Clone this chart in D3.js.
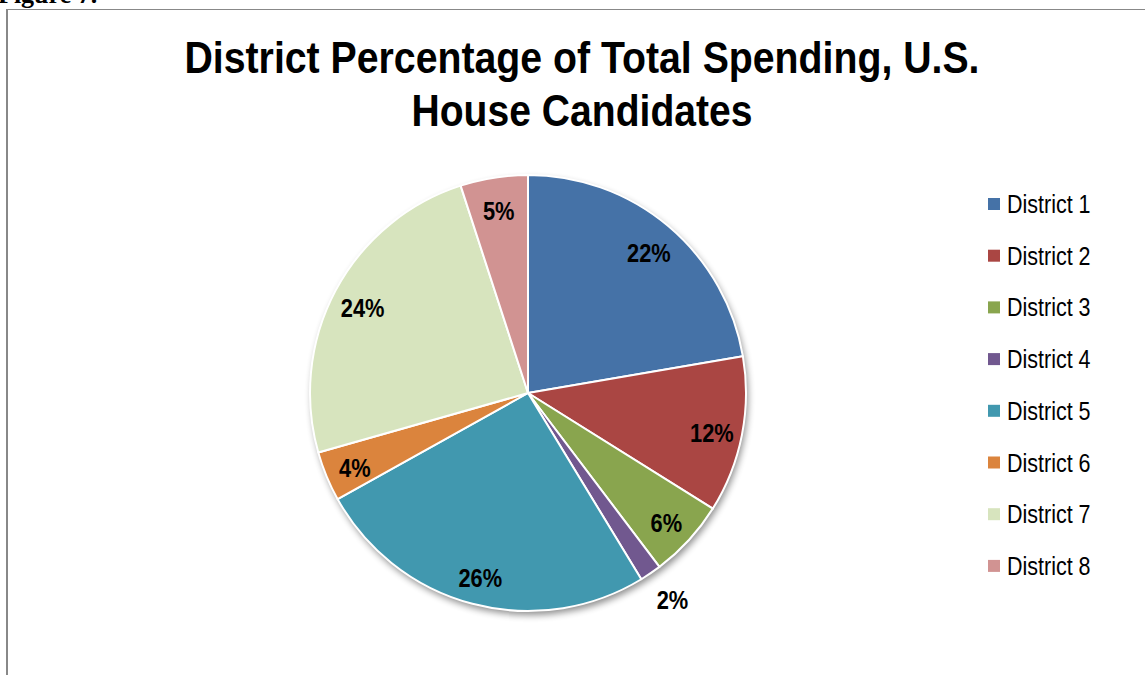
<!DOCTYPE html>
<html>
<head>
<meta charset="utf-8">
<script src="https://cdn.jsdelivr.net/npm/d3@7"></script>
<style>
  html, body { margin: 0; padding: 0; background: #fff; }
  svg { display: block; }
</style>
</head>
<body>
<svg id="chart" width="1145" height="675"></svg>
<script>
// Share of total spending by district (percent)
const districts = ["District 1", "District 2", "District 3", "District 4",
                   "District 5", "District 6", "District 7", "District 8"];
const shares = [22.3, 11.6, 5.8, 1.6, 25.6, 3.7, 24.4, 5.0];
const sliceColors = ["#4572A7", "#AA4643", "#89A54E", "#71588F",
                     "#4198AF", "#DB843D", "#D7E4BE", "#D19392"];
const titleLines = ["District Percentage of Total Spending, U.S.", "House Candidates"];

const W = 1145, H = 675;
const svg = d3.select("#chart");
const sans = "'Liberation Sans', Arial, sans-serif";
const squeeze = 0.84; // horizontal condensing for a narrow sans look

// Caption above the frame, mostly cropped off the top edge
svg.append("text")
  .attr("x", -2).attr("y", 3)
  .attr("font-family", "'Liberation Serif', 'Times New Roman', serif")
  .attr("font-weight", "bold").attr("font-size", 26)
  .attr("fill", "#000")
  .text("Figure 7.");

// Chart frame
svg.append("line").attr("x1", 6).attr("x2", W).attr("y1", 9.5).attr("y2", 9.5)
  .attr("stroke", "#888").attr("stroke-width", 1.2);
svg.append("line").attr("x1", 7).attr("x2", 7).attr("y1", 9).attr("y2", H)
  .attr("stroke", "#888").attr("stroke-width", 2);

// Title
const titleWidths = [795, 341];
svg.append("g").selectAll("text").data(titleLines).join("text")
  .attr("x", 582).attr("y", (d, i) => 73 + i * 53)
  .attr("text-anchor", "middle")
  .attr("textLength", (d, i) => titleWidths[i])
  .attr("lengthAdjust", "spacingAndGlyphs")
  .attr("font-family", sans).attr("font-weight", "bold").attr("font-size", 45)
  .attr("fill", "#000")
  .text(d => d);

// Pie
const cx = 528, cy = 393, R = 218;
const pie = d3.pie().sort(null).value(d => d);
const arcs = pie(shares);
const arc = d3.arc().innerRadius(0).outerRadius(R);

const defs = svg.append("defs");
const shadow = defs.append("filter").attr("id", "pieShadow")
  .attr("x", "-20%").attr("y", "-20%").attr("width", "140%").attr("height", "140%");
shadow.append("feGaussianBlur").attr("in", "SourceAlpha").attr("stdDeviation", 3.5);
shadow.append("feOffset").attr("dx", 2).attr("dy", 4).attr("result", "off");
shadow.append("feComponentTransfer").append("feFuncA").attr("type", "linear").attr("slope", 0.45);

const g = svg.append("g").attr("transform", `translate(${cx},${cy})`);

g.append("circle").attr("r", R).attr("fill", "#000").attr("filter", "url(#pieShadow)");

g.selectAll("path.slice").data(arcs).join("path")
  .attr("class", "slice")
  .attr("d", arc)
  .attr("fill", (d, i) => sliceColors[i])
  .attr("stroke", "#fff").attr("stroke-width", 2)
  .attr("stroke-linejoin", "round");

// Percentage labels: inside the slice, or just outside for very thin slices
const labelArc = d3.arc().innerRadius(R * 0.86).outerRadius(R * 0.86);
const outerArc = d3.arc().innerRadius(R * 1.13).outerRadius(R * 1.13);
g.selectAll("text.pct").data(arcs).join("text")
  .attr("class", "pct")
  .attr("transform", d => {
    const [x, y] = (d.value < 2 ? outerArc : labelArc).centroid(d);
    return `translate(${x + (d.value < 2 ? 6 : 0)},${y + 3}) scale(${squeeze},1)`;
  })
  .attr("text-anchor", "middle").attr("dy", "0.36em")
  .attr("font-family", sans).attr("font-weight", "bold").attr("font-size", 26)
  .attr("fill", "#000")
  .text(d => Math.round(d.value) + "%");

// Legend
const legend = svg.append("g").attr("transform", "translate(988,204)");
const rows = legend.selectAll("g").data(districts).join("g")
  .attr("transform", (d, i) => `translate(0,${i * 51.7})`);
rows.append("rect").attr("x", 0).attr("y", -6).attr("width", 12).attr("height", 12)
  .attr("fill", (d, i) => sliceColors[i]);
rows.append("text")
  .attr("transform", `translate(19,0) scale(0.86,1)`)
  .attr("dy", "0.36em")
  .attr("font-family", sans).attr("font-size", 25).attr("fill", "#000")
  .text(d => d);
</script>
</body>
</html>
